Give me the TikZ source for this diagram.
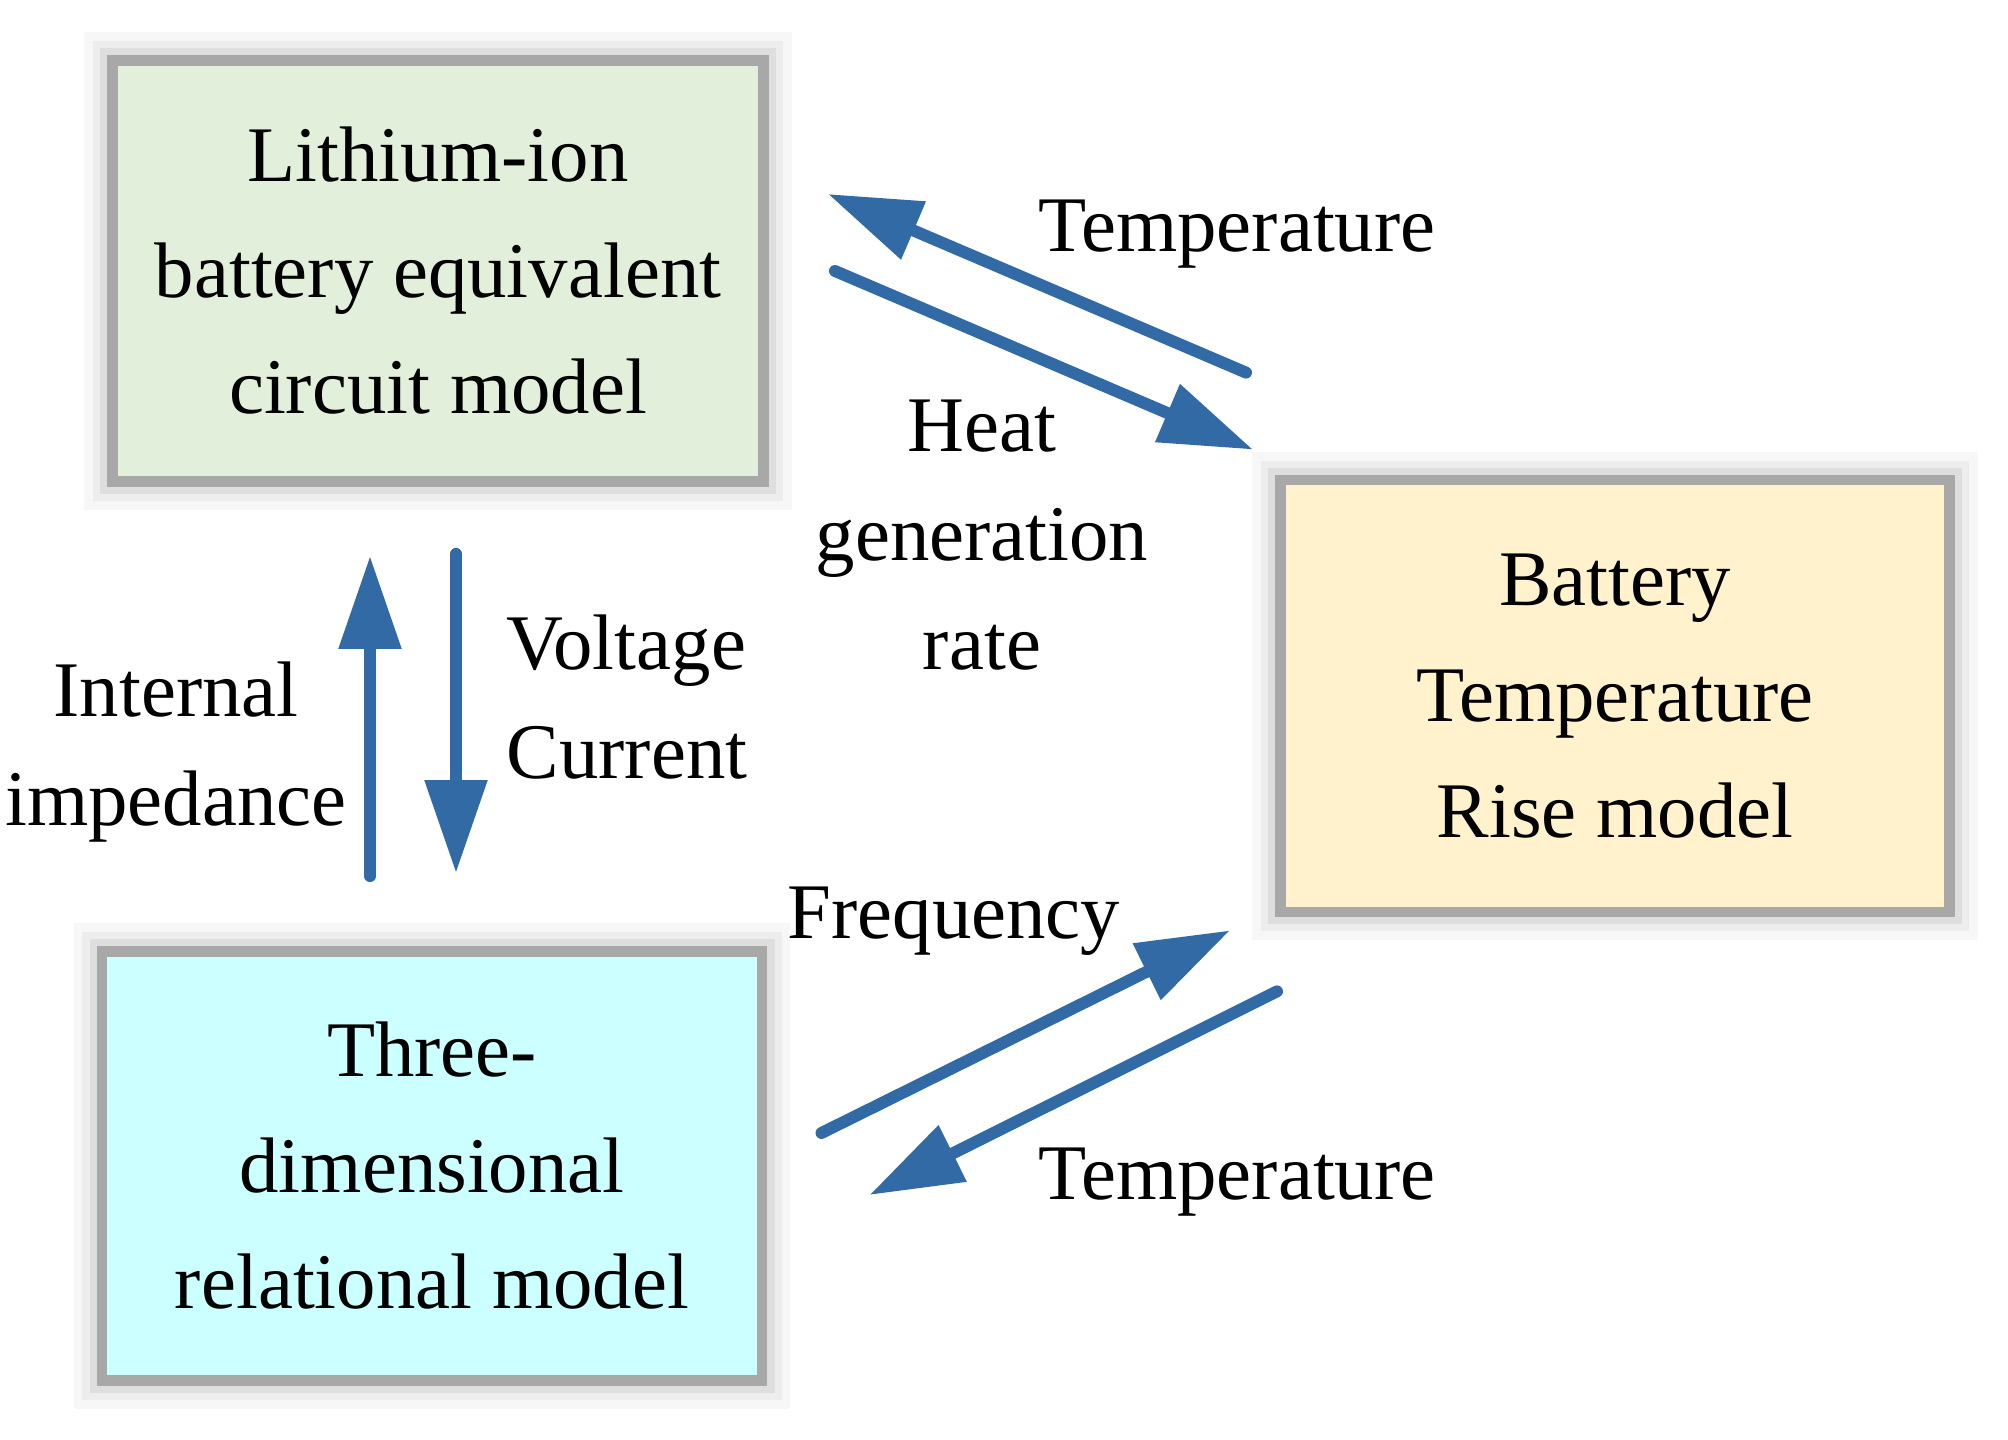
\documentclass[tikz,border=0pt]{standalone}
\usepackage{fontspec}
\setmainfont{Liberation Serif}
\usetikzlibrary{arrows.meta}
\definecolor{model-green}{RGB}{226,239,218}
\definecolor{model-yellow}{RGB}{255,242,204}
\definecolor{model-cyan}{RGB}{204,255,255}
\definecolor{model-frame}{RGB}{168,168,168}
\definecolor{flow-blue}{RGB}{50,106,166}

\begin{document}
\begin{tikzpicture}[x=0.01cm, y=-0.01cm, font=\fontsize{22.4pt}{31pt}\selectfont,
    model/.style={draw=model-frame, line width=3pt, align=center, inner sep=0pt,
        font=\fontsize{22.4pt}{33pt}\selectfont,
        preaction={draw=black!3, line width=16pt},
        preaction={draw=black!7, line width=11pt},
        preaction={draw=black!13, line width=7pt}},
    flow/.style={-{Triangle[length=9.3mm, width=6mm]}, line width=3.4pt, line cap=round, draw=flow-blue},
    lbl/.style={inner sep=0pt, align=center}]
            \useasboundingbox (0,0) rectangle (2008,1440);

            % Model boxes
            \node[model, fill=model-green, minimum width=6.51cm, minimum height=4.21cm] (ecm) at (438,271) {Lithium-ion\\battery equivalent\\circuit model};
            \node[model, fill=model-yellow, minimum width=6.69cm, minimum height=4.32cm] (btr) at (1615,696) {Battery\\Temperature\\Rise model};
            \node[model, fill=model-cyan, minimum width=6.60cm, minimum height=4.29cm] (tdr) at (432,1166) {Three-\\dimensional\\relational model};

            % Labels
            \node[lbl, anchor=base] (ttop) at (1237,252) {Temperature};
            \node[lbl] (heat) at (982,535) {Heat\\generation\\rate};
            \node[lbl, anchor=west, align=left] (vc) at (506,697) {Voltage\\Current};
            \node[lbl] (imp) at (176,752) {Internal\\impedance};
            \node[lbl, anchor=base] (freq) at (954,939) {Frequency};
            \node[lbl, anchor=base] (tbot) at (1237,1200) {Temperature};

            % Connections
            \draw[flow] ([shift={(-29,-102)}]btr.north west) -- ([shift={(59,-77)}]ecm.east);
            \draw[flow] ([shift={(66,0)}]ecm.east) -- ([shift={(-22,-25)}]btr.north west);
            \draw[flow] ([shift={(-62,-70)}]tdr.north) -- ([shift={(-68,69)}]ecm.south);
            \draw[flow] ([shift={(18,67)}]ecm.south) -- ([shift={(24,-73)}]tdr.north);
            \draw[flow] ([shift={(54,-33)}]tdr.east) -- ([shift={(-45,13)}]btr.south west);
            \draw[flow] ([shift={(2,74)}]btr.south west) -- ([shift={(102,29)}]tdr.east);
        \end{tikzpicture}
\end{document}
